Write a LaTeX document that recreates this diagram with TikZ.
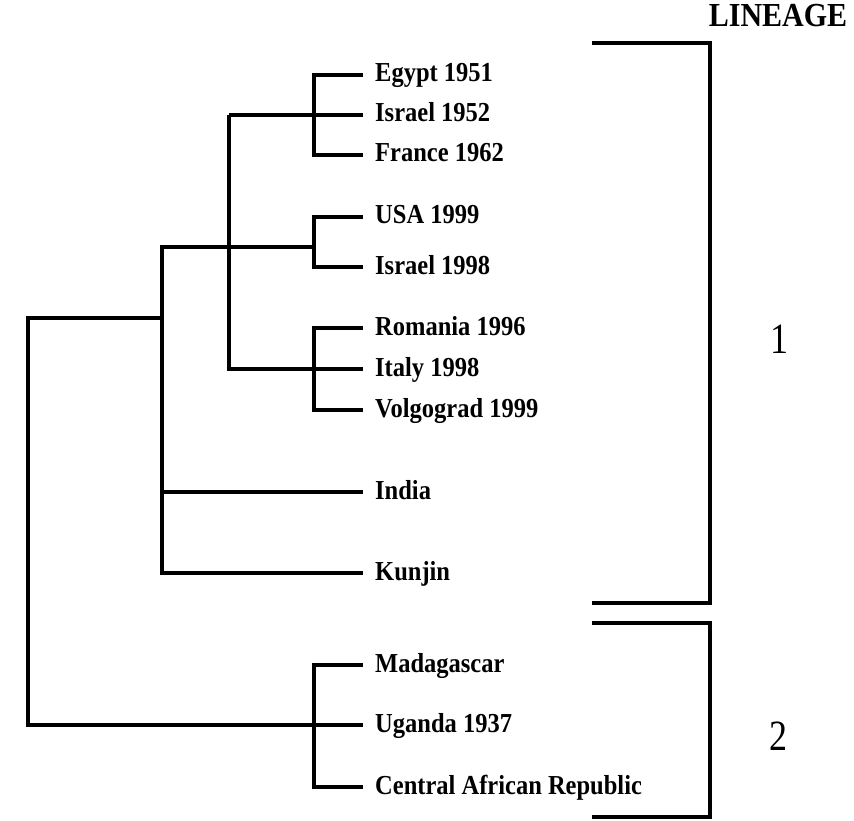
\documentclass[tikz,border=0pt]{standalone}
\usepackage{fontspec}
\setmainfont{Liberation Serif}
\begin{document}
\begin{tikzpicture}[x=1pt,y=-1pt,
  tree/.style={line width=3.8pt, line join=miter, line cap=butt},
  leaf/.style={anchor=base west, inner sep=0pt, font=\bfseries\fontsize{24.5}{24.5}\selectfont},
  head/.style={anchor=base, inner sep=0pt, font=\bfseries\fontsize{30}{30}\selectfont},
  num/.style={anchor=base, inner sep=0pt, font=\fontsize{36}{36}\selectfont}]
\useasboundingbox (0,0) rectangle (854,821);
% leaf ends (coordinates) and labels
\newcommand{\leafat}[3]{%
  \coordinate (#1) at (363,#2);
  \node[leaf] (#1-t) at (375,#2+7) {\scalebox{1}[1.12]{#3}};}
\leafat{egypt}{75}{Egypt 1951}
\leafat{isrA}{115}{Israel 1952}
\leafat{france}{155}{France 1962}
\leafat{usa}{217}{USA 1999}
\leafat{isrB}{267}{Israel 1998}
\leafat{romania}{328}{Romania 1996}
\leafat{italy}{369}{Italy 1998}
\leafat{volgo}{410}{Volgograd 1999}
\leafat{india}{492}{India}
\leafat{kunjin}{573}{Kunjin}
\leafat{mada}{665}{Madagascar}
\leafat{uganda}{725}{Uganda 1937}
\leafat{car}{787}{Central African Republic}
% internal nodes
\coordinate (cA) at (314,115);
\coordinate (cC) at (314,247);
\coordinate (cE) at (314,369);
\coordinate (cF) at (314,725);
\coordinate (nB) at (229,115);
\coordinate (nD) at (162,318);
\coordinate (root) at (28,318);
% clades
\draw[tree] (egypt) -- (egypt -| cA) -- (france -| cA) -- (france);
\draw[tree] (isrA) -- (nB);
\draw[tree] (usa) -- (usa -| cC) -- (isrB -| cC) -- (isrB);
\draw[tree] (romania) -- (romania -| cE) -- (volgo -| cE) -- (volgo);
\draw[tree] (italy) -- (italy -| nB) -- (nB);
\draw[tree] (cC) -- (cC -| nD) -- (kunjin -| nD) -- (kunjin);
\draw[tree] (india) -- (india -| nD);
\draw[tree] (mada) -- (mada -| cF) -- (car -| cF) -- (car);
\draw[tree] (nD) -- (root) -- (uganda -| root) -- (uganda);
% lineage brackets
\node[head] (lineage) at (778,27) {\scalebox{1}[1.12]{LINEAGE}};
\coordinate (b1a) at (592,43);
\coordinate (b1b) at (592,603);
\coordinate (b2a) at (592,623);
\coordinate (b2b) at (592,817);
\draw[tree] (b1a) -- ++(118,0) |- (b1b);
\draw[tree] (b2a) -- ++(118,0) |- (b2b);
\node[num] (l1) at (779,353) {\scalebox{1}[1.2]{1}};
\node[num] (l2) at (778,750) {\scalebox{1}[1.2]{2}};
\end{tikzpicture}
\end{document}
